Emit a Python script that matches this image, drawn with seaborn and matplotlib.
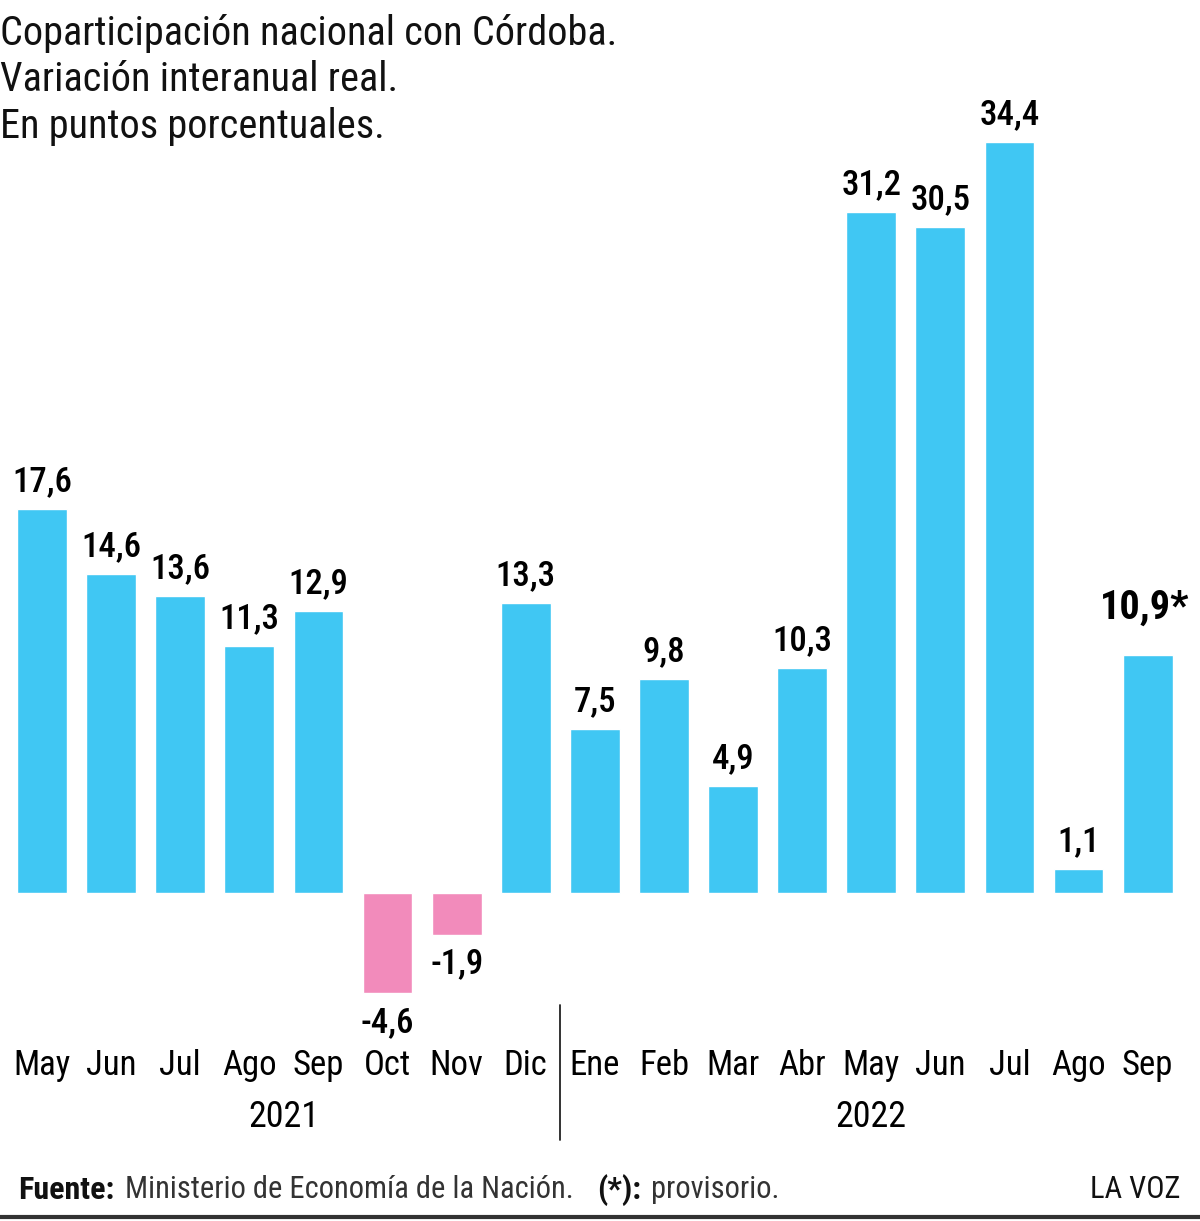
import matplotlib
matplotlib.use("Agg")
import matplotlib.pyplot as plt
import seaborn as sns
import pandas as pd
from matplotlib import font_manager

months = ["May", "Jun", "Jul", "Ago", "Sep", "Oct", "Nov", "Dic",
          "Ene", "Feb", "Mar", "Abr", "May", "Jun", "Jul", "Ago", "Sep"]
years = ["2021"] * 8 + ["2022"] * 9
values = [17.6, 14.6, 13.6, 11.3, 12.9, -4.6, -1.9, 13.3,
          7.5, 9.8, 4.9, 10.3, 31.2, 30.5, 34.4, 1.1, 10.9]
labels = ["17,6", "14,6", "13,6", "11,3", "12,9", "-4,6", "-1,9", "13,3",
          "7,5", "9,8", "4,9", "10,3", "31,2", "30,5", "34,4", "1,1", "10,9*"]

BLUE = "#40C7F3"
PINK = "#F28BBB"

sns.set_theme(style="white")

fl = font_manager.fontManager.ttflist
names = {f.name for f in fl}
stretch = "normal"
family = ["DejaVu Sans"]
if "Roboto Condensed" in names:
    family = ["Roboto Condensed", "DejaVu Sans"]
elif "Liberation Sans Narrow" in names:
    family = ["Liberation Sans Narrow", "DejaVu Sans"]
elif any(f.name == "DejaVu Sans" and f.stretch == "condensed" for f in fl):
    stretch = "condensed"
plt.rcParams["font.family"] = family
plt.rcParams["font.stretch"] = stretch

df = pd.DataFrame({
    "key": [f"{m} {y}" for m, y in zip(months, years)],
    "value": values,
    "sign": ["neg" if v < 0 else "pos" for v in values],
})

fig = plt.figure(figsize=(12, 12.21), dpi=100)
ax = fig.add_axes([0.0062, 0.1792, 0.979, 0.742])
sns.barplot(data=df, x="key", y="value", hue="sign",
            palette={"pos": BLUE, "neg": PINK}, dodge=False,
            width=0.72, legend=False, ax=ax, saturation=1)
ax.set_xlim(-0.5, len(values) - 0.5)
ax.set_ylim(-5, 36.5)
ax.axis("off")

for i, (v, lab) in enumerate(zip(values, labels)):
    if v >= 0:
        if lab.endswith("*"):
            ax.text(i - 0.05, v + 1.3, lab, ha="center", va="bottom",
                    fontsize=29, fontweight="bold", color="black")
        else:
            ax.text(i, v + 0.5, lab, ha="center", va="bottom",
                    fontsize=25, fontweight=500, color="black")
    else:
        ax.text(i, v - 0.6, lab, ha="center", va="top",
                fontsize=25, fontweight=500, color="black")

trans = ax.get_xaxis_transform()
for i, m in enumerate(months):
    ax.text(i, -0.0695, m, transform=trans, ha="center", va="center",
            fontsize=25, color="black", clip_on=False)

ax.text(3.5, -0.127, "2021", transform=trans, ha="center", va="center",
        fontsize=26, color="black", clip_on=False)
ax.text(12, -0.127, "2022", transform=trans, ha="center", va="center",
        fontsize=26, color="black", clip_on=False)

ax.plot([7.5, 7.5], [-0.003, -0.152], transform=trans, color="#222222",
        lw=1.3, clip_on=False)

fig.text(0.0, 1 - 14 / 1221,
         "Coparticipación nacional con Córdoba.\nVariación interanual real.\nEn puntos porcentuales.",
         ha="left", va="top", fontsize=29, linespacing=1.24, color="#111111")

fy = 1 - 1190 / 1221
fig.text(18 / 1200, fy, "Fuente:", ha="left", va="center",
         fontsize=23, fontweight="bold", color="#111111")
fig.text(125 / 1200, fy, "Ministerio de Economía de la Nación.", ha="left",
         va="center", fontsize=22, color="#333333")
fig.text(597 / 1200, fy, "(*):", ha="left", va="center",
         fontsize=23, fontweight="bold", color="#111111")
fig.text(651 / 1200, fy, "provisorio.", ha="left", va="center",
         fontsize=22, color="#333333")
fig.text(1180 / 1200, fy, "LA VOZ", ha="right", va="center",
         fontsize=22, color="#111111")

fig.add_artist(plt.Line2D([0, 1], [1 - 1217 / 1221, 1 - 1217 / 1221],
                          transform=fig.transFigure, color="#333333", lw=3))

fig.savefig("out.png", dpi=100, facecolor="white")
